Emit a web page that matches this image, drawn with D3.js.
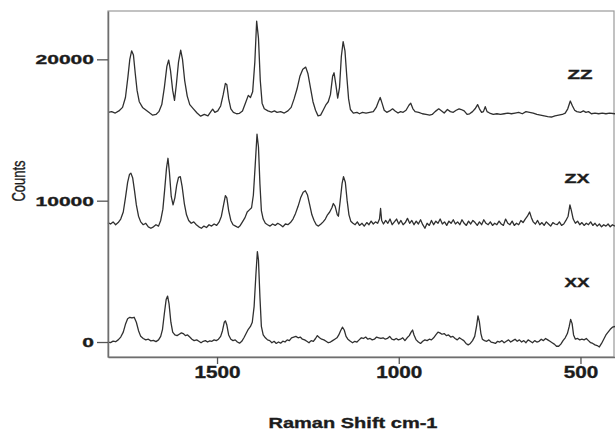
<!DOCTYPE html>
<html>
<head>
<meta charset="utf-8">
<script src="https://cdn.jsdelivr.net/npm/d3@7"></script>
<style>
  html, body { margin: 0; padding: 0; background: #fff; }
  svg { display: block; }
  text { font-family: "Liberation Sans", Arial, Helvetica, sans-serif; fill: #1c1c1c; }
  .heavy { stroke: #1c1c1c; stroke-width: 0.35; }
</style>
</head>
<body>
<svg id="chart" width="615" height="431"></svg>
<script>
// Raman spectra of one crystal in three polarisation geometries (ZZ, ZX, XX).
// Each spectrum: [Raman shift (cm-1), counts]. ZZ and ZX carry their own offsets.
const shiftTicks = [1500, 1000, 500];
const countTicks = [0, 10000, 20000];
const seriesNames = ["ZZ", "ZX", "XX"];

const zzSpectrum = [
  [1800,16250],[1790,16300],[1780,16200],[1770,16350],[1760,16600],[1752,17300],[1745,18800],[1740,20000],
  [1735,20600],[1730,20300],[1725,19000],[1720,17800],[1714,17000],[1705,16600],[1695,16400],[1685,16200],
  [1677,16050],[1668,16100],[1660,16300],[1652,16800],[1645,18000],[1638,19500],[1633,19950],[1628,19200],
  [1622,17800],[1617,17100],[1612,18200],[1606,19800],[1600,20650],[1595,20000],[1589,18500],[1582,17400],
  [1575,16800],[1565,16500],[1555,16200],[1545,15980],[1535,16100],[1525,16000],[1517,16300],[1512,16470],
  [1506,16250],[1498,16350],[1490,16700],[1483,17500],[1477,18300],[1473,18200],[1468,17200],[1462,16500],
  [1455,16250],[1446,16150],[1439,16170],[1430,16350],[1422,16900],[1414,17450],[1408,17300],[1402,17700],
  [1396,19800],[1391,22700],[1386,21500],[1381,18500],[1376,16900],[1370,16500],[1360,16350],[1350,16270],
  [1342,16350],[1335,16250],[1325,16300],[1315,16200],[1305,16350],[1296,16600],[1288,17200],[1280,17900],
  [1272,18800],[1264,19300],[1256,19450],[1250,19000],[1243,18000],[1236,17000],[1229,16400],[1222,16000],
  [1215,16050],[1208,16400],[1200,16800],[1194,17000],[1188,17500],[1182,18800],[1178,19050],[1173,18200],
  [1168,17250],[1163,18000],[1158,20200],[1153,21250],[1148,20600],[1143,18800],[1138,17200],[1133,16450],
  [1125,16200],[1115,16250],[1108,16150],[1100,16250],[1090,16200],[1080,16250],[1070,16300],[1062,16600],
  [1056,17000],[1051,17300],[1046,16900],[1040,16400],[1033,16250],[1025,16350],[1017,16500],[1010,16350],
  [1002,16200],[995,16300],[988,16250],[980,16400],[972,16750],[967,16900],[961,16500],[955,16300],
  [945,16250],[935,16150],[925,16100],[915,16050],[908,16100],[900,16300],[890,16500],[882,16350],
  [875,16200],[866,16450],[858,16300],[850,16250],[842,16400],[834,16500],[828,16450],[820,16350],
  [812,16100],[805,16150],[797,16300],[790,16500],[783,16800],[778,16500],[772,16250],[767,16300],
  [762,16650],[757,16300],[750,16200],[740,16100],[730,16150],[720,16100],[710,16150],[700,16200],
  [690,16150],[680,16200],[670,16250],[660,16150],[650,16300],[640,16250],[630,16200],[620,16100],
  [610,16050],[600,16000],[590,15950],[580,15920],[570,16000],[560,16050],[550,16100],[542,16200],
  [535,16500],[528,17050],[522,16700],[516,16400],[510,16300],[500,16250],[492,16350],[485,16250],
  [478,16300],[470,16150],[460,16200],[450,16150],[440,16200],[430,16150],[420,16200],[405,16150]
];

const zxSpectrum = [
  [1800,8450],[1793,8350],[1786,8500],[1779,8300],[1772,8450],[1765,8700],[1758,9200],[1752,10200],
  [1746,11300],[1741,11850],[1737,11950],[1732,11600],[1727,10700],[1722,9700],[1716,8900],[1710,8500],
  [1703,8300],[1696,8400],[1689,8150],[1682,8050],[1675,8150],[1668,8300],[1661,8200],[1655,8600],
  [1649,9400],[1644,10800],[1639,12300],[1635,13000],[1631,12000],[1626,10300],[1621,9700],[1616,10200],
  [1611,11100],[1606,11650],[1601,11700],[1596,11000],[1590,9800],[1584,9000],[1578,8600],[1571,8400],
  [1564,8500],[1557,8300],[1550,8150],[1543,8050],[1536,8200],[1529,8100],[1522,8300],[1515,8200],
  [1508,8350],[1501,8250],[1494,8500],[1488,8900],[1482,9700],[1477,10350],[1473,10200],[1468,9300],
  [1462,8600],[1456,8300],[1449,8200],[1442,8100],[1436,8250],[1430,8500],[1423,8800],[1417,9200],
  [1411,9350],[1405,9500],[1400,10400],[1395,12500],[1390,14700],[1386,13800],[1382,11200],[1378,9300],
  [1373,8700],[1367,8400],[1361,8300],[1354,8200],[1347,8350],[1340,8250],[1333,8400],[1326,8300],
  [1319,8150],[1312,8350],[1305,8300],[1298,8450],[1291,8700],[1284,9100],[1277,9600],[1270,10200],
  [1263,10600],[1257,10700],[1251,10400],[1245,9700],[1239,9000],[1233,8600],[1227,8300],[1221,8200],
  [1214,8350],[1208,8500],[1202,8700],[1196,9000],[1190,9200],[1184,9500],[1180,9800],[1175,9600],
  [1169,9000],[1166,8900],[1161,10000],[1156,11200],[1152,11700],[1147,11300],[1142,10000],[1137,9000],
  [1132,8550],[1126,8400],[1120,8300],[1114,8500],[1108,8250],[1101,8400],[1095,8200],[1088,8450],
  [1082,8300],[1076,8550],[1070,8350],[1064,8500],[1058,8400],[1053,8700],[1050,9450],[1047,8600],
  [1042,8350],[1036,8600],[1030,8400],[1024,8700],[1018,8300],[1012,8500],[1006,8700],[1000,8350],
  [994,8600],[988,8300],[982,8450],[976,8750],[970,8400],[964,8600],[958,8300],[952,8550],
  [946,8350],[940,8650],[934,8300],[928,8050],[922,8400],[916,8250],[910,8600],[904,8300],
  [898,8550],[892,8400],[886,8700],[880,8350],[874,8500],[868,8250],[862,8550],[856,8400],
  [850,8650],[844,8350],[838,8500],[832,8300],[826,8650],[820,8400],[814,8250],[808,8550],
  [802,8350],[796,8600],[790,8450],[784,8250],[778,8500],[772,8300],[766,8650],[760,8400],
  [754,8300],[748,8500],[742,8250],[736,8400],[730,8300],[724,8550],[718,8350],[712,8250],
  [706,8700],[700,8400],[694,8300],[688,8550],[682,8250],[676,8400],[670,8300],[664,8600],
  [658,8450],[652,8700],[646,8900],[640,9200],[635,8800],[630,8500],[624,8350],[618,8600],
  [612,8300],[606,8450],[600,8250],[594,8500],[588,8350],[582,8200],[576,8450],[570,8350],
  [564,8300],[558,8500],[552,8250],[546,8350],[540,8600],[534,8900],[529,9700],[525,9300],
  [520,8700],[514,8400],[508,8550],[502,8300],[496,8450],[490,8250],[484,8400],[478,8300],
  [472,8500],[466,8250],[460,8400],[454,8200],[448,8350],[442,8150],[436,8300],[430,8200],
  [424,8350],[418,8150],[412,8300],[405,8200]
];

const xxSpectrum = [
  [1800,0],[1793,-40],[1786,60],[1779,20],[1772,150],[1765,350],[1758,700],[1752,1250],
  [1746,1650],[1740,1750],[1734,1700],[1728,1750],[1722,1400],[1716,800],[1710,400],[1703,250],
  [1696,150],[1689,200],[1682,80],[1675,120],[1668,30],[1661,150],[1655,400],[1650,900],
  [1645,2000],[1640,3000],[1636,3250],[1632,2700],[1627,1400],[1622,700],[1616,500],[1610,450],
  [1604,550],[1598,650],[1593,600],[1587,450],[1581,500],[1575,350],[1569,200],[1563,100],
  [1556,150],[1550,50],[1544,-50],[1538,50],[1532,100],[1526,0],[1520,80],[1514,50],
  [1508,150],[1502,100],[1496,200],[1490,400],[1485,800],[1480,1400],[1477,1500],[1473,1200],
  [1468,500],[1462,200],[1456,100],[1450,150],[1444,0],[1438,-80],[1432,50],[1426,300],
  [1420,600],[1414,900],[1408,1100],[1403,1400],[1398,2500],[1393,4800],[1389,6400],[1386,5800],
  [1382,3200],[1378,1100],[1373,500],[1367,300],[1361,150],[1355,100],[1349,-50],[1343,50],
  [1337,-100],[1331,0],[1325,-80],[1319,60],[1313,0],[1307,150],[1301,100],[1295,300],
  [1289,350],[1283,400],[1277,300],[1271,350],[1265,200],[1259,150],[1253,50],[1247,-50],
  [1241,100],[1235,50],[1229,250],[1224,450],[1218,300],[1212,200],[1206,150],[1200,50],
  [1194,-50],[1188,0],[1182,100],[1176,200],[1170,300],[1165,500],[1160,800],[1155,1050],
  [1150,850],[1145,400],[1140,200],[1133,50],[1127,-50],[1121,50],[1115,0],[1109,150],
  [1103,300],[1097,250],[1091,350],[1085,200],[1079,250],[1073,150],[1067,200],[1061,350],
  [1055,300],[1049,250],[1043,300],[1037,200],[1031,250],[1025,400],[1019,200],[1013,150],
  [1007,250],[1001,150],[995,200],[989,300],[983,100],[977,300],[971,450],[966,700],
  [962,850],[958,500],[952,150],[946,0],[940,-100],[934,50],[928,150],[922,100],
  [916,200],[910,150],[904,300],[898,500],[892,700],[887,650],[881,550],[875,600],
  [869,450],[863,500],[857,350],[851,400],[845,250],[839,150],[833,300],[827,200],
  [821,100],[815,-100],[809,-200],[803,-100],[797,100],[791,400],[786,1100],[782,1850],
  [778,1400],[774,600],[770,200],[764,100],[758,50],[752,150],[746,0],[740,-50],
  [734,-100],[728,50],[722,0],[716,100],[710,-50],[704,50],[698,150],[692,0],
  [686,100],[680,200],[674,50],[668,150],[662,0],[656,100],[650,-50],[644,150],
  [638,50],[632,-50],[626,100],[620,0],[614,50],[608,200],[602,100],[596,250],
  [590,150],[584,50],[578,-50],[572,-150],[566,-300],[560,-300],[554,-150],[548,100],
  [542,300],[536,600],[531,1100],[527,1600],[523,1300],[519,500],[514,200],[508,250],
  [502,150],[496,200],[490,150],[484,250],[478,100],[472,-50],[466,-100],[460,-200],
  [454,-250],[448,-350],[442,-100],[436,200],[430,500],[424,700],[418,900],[412,1050],
  [405,1100]
];

const spectra = [zzSpectrum, zxSpectrum, xxSpectrum];

// ---- layout ----
const plot = { left: 108, right: 614, top: 11, bottom: 357 };

const x = d3.scaleLinear().domain([1800, 405]).range([plot.left, 615]);
const y = d3.scaleLinear().domain([-1060, 23420]).range([plot.bottom, plot.top]);

const svg = d3.select("#chart");

// frame around the plotting area
svg.append("rect")
  .attr("x", plot.left).attr("y", plot.top)
  .attr("width", plot.right - plot.left).attr("height", plot.bottom - plot.top)
  .attr("fill", "none").attr("stroke", "#9a9a9a").attr("stroke-width", 1.2);

// spectra
const line = d3.line().x(d => x(d[0])).y(d => y(d[1]));
svg.append("g")
  .selectAll("path")
  .data(spectra)
  .join("path")
  .attr("d", line)
  .attr("fill", "none")
  .attr("stroke", "#303030")
  .attr("stroke-width", 1.3)
  .attr("stroke-linejoin", "round");

// y axis
const yAxis = svg.append("g")
  .attr("transform", `translate(${plot.left},0)`)
  .call(d3.axisLeft(y).tickValues(countTicks).tickFormat(d3.format("d"))
    .tickSize(11).tickPadding(3).tickSizeOuter(0));
yAxis.select(".domain").attr("stroke", "#6e6e6e").attr("stroke-width", 1.5);
yAxis.selectAll(".tick line").attr("stroke", "#555").attr("stroke-width", 1.3);
yAxis.selectAll(".tick text")
  .attr("class", "heavy")
  .attr("font-size", 13.5).attr("font-weight", "bold").attr("fill", "#1c1c1c")
  .attr("font-family", '"Liberation Sans", Arial, sans-serif')
  .attr("lengthAdjust", "spacingAndGlyphs")
  .attr("textLength", d => String(d).length * 11.7);

// x axis
const xAxis = svg.append("g")
  .attr("transform", `translate(0,${plot.bottom})`)
  .call(d3.axisBottom(x).tickValues(shiftTicks).tickFormat(d3.format("d"))
    .tickSize(7).tickPadding(3).tickSizeOuter(0));
xAxis.select(".domain").attr("stroke", "#6e6e6e").attr("stroke-width", 1.5);
xAxis.selectAll(".tick line").attr("stroke", "#555").attr("stroke-width", 1.3);
xAxis.selectAll(".tick text")
  .attr("class", "heavy")
  .attr("font-size", 16).attr("font-weight", "bold").attr("fill", "#1c1c1c")
  .attr("font-family", '"Liberation Sans", Arial, sans-serif')
  .attr("lengthAdjust", "spacingAndGlyphs")
  .attr("textLength", d => String(d).length * 11.5);

// axis titles
svg.append("text")
  .attr("class", "heavy")
  .attr("x", 353).attr("y", 428)
  .attr("text-anchor", "middle")
  .attr("font-size", 15.5).attr("font-weight", "bold")
  .attr("lengthAdjust", "spacingAndGlyphs").attr("textLength", 169)
  .text("Raman Shift cm-1");

svg.append("text")
  .attr("transform", "translate(25,181) scale(1.4,1) rotate(-90)")
  .attr("text-anchor", "middle")
  .attr("font-size", 13)
  .attr("stroke", "#1c1c1c").attr("stroke-width", 0.25)
  .text("Counts");

// polarisation labels beside each trace
const labelPos = [[580, 79], [577, 183], [577, 286.5]];
svg.append("g")
  .selectAll("text")
  .data(seriesNames)
  .join("text")
  .attr("class", "heavy")
  .attr("x", (d, i) => labelPos[i][0])
  .attr("y", (d, i) => labelPos[i][1])
  .attr("text-anchor", "middle")
  .attr("font-size", 12.5).attr("font-weight", "bold")
  .attr("lengthAdjust", "spacingAndGlyphs").attr("textLength", 25)
  .text(d => d);
</script>
</body>
</html>
